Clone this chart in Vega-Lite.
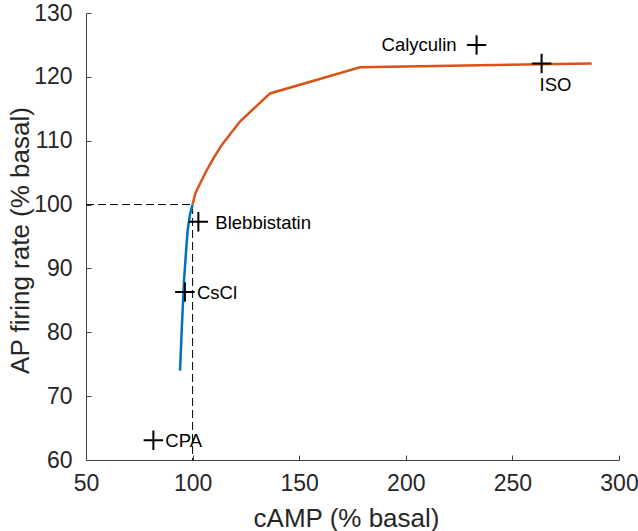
{
  "$schema": "https://vega.github.io/schema/vega-lite/v6.json",
  "width": 533,
  "height": 447,
  "autosize": {"type": "none"},
  "padding": {"left": 86, "top": 13, "right": 19, "bottom": 71},
  "config": {
    "view": {"stroke": null},
    "font": "Liberation Sans",
    "axis": {
      "grid": false,
      "domainColor": "#404040",
      "tickColor": "#404040",
      "labelColor": "#262626",
      "titleColor": "#262626",
      "labelFont": "Liberation Sans",
      "titleFont": "Liberation Sans",
      "labelFontSize": 23,
      "titleFontSize": 26,
      "titleFontWeight": "normal",
      "tickSize": -5,
      "labelFlush": false,
      "labelOverlap": false
    }
  },
  "datasets": {
    "curves": [
      {"series": "model_block", "i": 0, "camp": 94.1, "rate": 74.0},
      {"series": "model_block", "i": 1, "camp": 94.9, "rate": 80.4},
      {"series": "model_block", "i": 2, "camp": 96.0, "rate": 88.2},
      {"series": "model_block", "i": 3, "camp": 97.0, "rate": 93.0},
      {"series": "model_block", "i": 4, "camp": 97.7, "rate": 96.0},
      {"series": "model_block", "i": 5, "camp": 98.8, "rate": 98.5},
      {"series": "model_block", "i": 6, "camp": 100.0, "rate": 100.0},
      {"series": "model_stim", "i": 0, "camp": 100.0, "rate": 100.0},
      {"series": "model_stim", "i": 1, "camp": 101.3, "rate": 101.8},
      {"series": "model_stim", "i": 2, "camp": 103.5, "rate": 103.3},
      {"series": "model_stim", "i": 3, "camp": 106.5, "rate": 105.3},
      {"series": "model_stim", "i": 4, "camp": 109.7, "rate": 107.2},
      {"series": "model_stim", "i": 5, "camp": 113.6, "rate": 109.3},
      {"series": "model_stim", "i": 6, "camp": 122.2, "rate": 113.0},
      {"series": "model_stim", "i": 7, "camp": 136.3, "rate": 117.4},
      {"series": "model_stim", "i": 8, "camp": 178.5, "rate": 121.5},
      {"series": "model_stim", "i": 9, "camp": 287.2, "rate": 122.1}
    ],
    "guide": [
      {"i": 0, "camp": 50, "rate": 100},
      {"i": 1, "camp": 100, "rate": 100},
      {"i": 2, "camp": 100, "rate": 60}
    ],
    "drugs": [
      {"drug": "CPA", "camp": 81.6, "rate": 63.1},
      {"drug": "CsCl", "camp": 96.4, "rate": 86.3},
      {"drug": "Blebbistatin", "camp": 102.7, "rate": 97.3},
      {"drug": "Calyculin", "camp": 233.2, "rate": 125.0},
      {"drug": "ISO", "camp": 263.7, "rate": 122.1}
    ]
  },
  "layer": [
    {
      "data": {"name": "guide"},
      "mark": {"type": "line", "color": "black", "strokeWidth": 1, "strokeDash": [8, 4]},
      "encoding": {
        "x": {
          "field": "camp", "type": "quantitative",
          "scale": {"domain": [50, 300], "nice": false, "zero": false},
          "axis": {
            "title": "cAMP (% basal)",
            "values": [50, 100, 150, 200, 250, 300],
            "labelPadding": 17,
            "titleX": 260,
            "titleY": 66,
            "titleAlign": "center",
            "titleBaseline": "alphabetic",
            "titleAngle": 0
          }
        },
        "y": {
          "field": "rate", "type": "quantitative",
          "scale": {"domain": [60, 130], "nice": false, "zero": false},
          "axis": {
            "title": "AP firing rate (% basal)",
            "values": [60, 70, 80, 90, 100, 110, 120, 130],
            "labelPadding": 19,
            "titleX": -58,
            "titleY": 227,
            "titleAlign": "center",
            "titleBaseline": "alphabetic",
            "titleAngle": -90
          }
        },
        "order": {"field": "i"}
      }
    },
    {
      "data": {"name": "curves"},
      "mark": {"type": "line", "strokeWidth": 2.5},
      "encoding": {
        "x": {"field": "camp", "type": "quantitative"},
        "y": {"field": "rate", "type": "quantitative"},
        "order": {"field": "i"},
        "color": {
          "field": "series", "type": "nominal",
          "scale": {"domain": ["model_block", "model_stim"], "range": ["#0072BD", "#D95319"]},
          "legend": null
        }
      }
    },
    {
      "data": {"name": "drugs"},
      "mark": {"type": "point", "shape": "M-1,0L1,0M0,-1L0,1", "filled": false, "stroke": "black", "strokeWidth": 2, "size": 380, "opacity": 1},
      "encoding": {
        "x": {"field": "camp", "type": "quantitative"},
        "y": {"field": "rate", "type": "quantitative"}
      }
    },
    {
      "data": {"name": "drugs"},
      "transform": [{"filter": "datum.drug === 'CPA' || datum.drug === 'CsCl'"}],
      "mark": {"type": "text", "align": "left", "baseline": "alphabetic", "dx": 12, "dy": 7, "fontSize": 18.5, "color": "black"},
      "encoding": {
        "x": {"field": "camp", "type": "quantitative"},
        "y": {"field": "rate", "type": "quantitative"},
        "text": {"field": "drug"}
      }
    },
    {
      "data": {"name": "drugs"},
      "transform": [{"filter": "datum.drug === 'Blebbistatin'"}],
      "mark": {"type": "text", "align": "left", "baseline": "alphabetic", "dx": 17, "dy": 7, "fontSize": 18.5, "color": "black"},
      "encoding": {
        "x": {"field": "camp", "type": "quantitative"},
        "y": {"field": "rate", "type": "quantitative"},
        "text": {"field": "drug"}
      }
    },
    {
      "data": {"name": "drugs"},
      "transform": [{"filter": "datum.drug === 'Calyculin'"}],
      "mark": {"type": "text", "align": "right", "baseline": "alphabetic", "dx": -20, "dy": 6.5, "fontSize": 18.5, "color": "black"},
      "encoding": {
        "x": {"field": "camp", "type": "quantitative"},
        "y": {"field": "rate", "type": "quantitative"},
        "text": {"field": "drug"}
      }
    },
    {
      "data": {"name": "drugs"},
      "transform": [{"filter": "datum.drug === 'ISO'"}],
      "mark": {"type": "text", "align": "left", "baseline": "alphabetic", "dx": -2, "dy": 28, "fontSize": 18.5, "color": "black"},
      "encoding": {
        "x": {"field": "camp", "type": "quantitative"},
        "y": {"field": "rate", "type": "quantitative"},
        "text": {"field": "drug"}
      }
    }
  ]
}
